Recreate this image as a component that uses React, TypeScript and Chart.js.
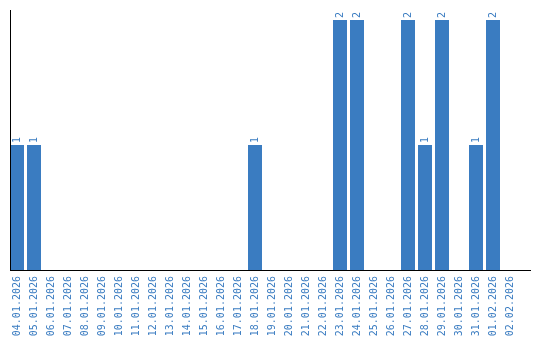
import React, { useEffect, useRef } from "react";
import { Chart, registerables } from "chart.js";

Chart.register(...registerables);

const categories: string[] = [
  "04.01.2026", "05.01.2026", "06.01.2026", "07.01.2026", "08.01.2026",
  "09.01.2026", "10.01.2026", "11.01.2026", "12.01.2026", "13.01.2026",
  "14.01.2026", "15.01.2026", "16.01.2026", "17.01.2026", "18.01.2026",
  "19.01.2026", "20.01.2026", "21.01.2026", "22.01.2026", "23.01.2026",
  "24.01.2026", "25.01.2026", "26.01.2026", "27.01.2026", "28.01.2026",
  "29.01.2026", "30.01.2026", "31.01.2026", "01.02.2026", "02.02.2026",
];

const counts: number[] = [
  1, 1, 0, 0, 0,
  0, 0, 0, 0, 0,
  0, 0, 0, 0, 1,
  0, 0, 0, 0, 2,
  2, 0, 0, 2, 1,
  2, 0, 1, 2, 0,
];

const BLUE = "#3a7cc1";
const FONT = "'DejaVu Sans Mono', monospace";

const axesPlugin = {
  id: "axesLines",
  afterDatasetsDraw(chart: any) {
    const ctx = chart.ctx;
    const area = chart.chartArea;
    ctx.save();
    ctx.fillStyle = "#000000";
    const x0 = Math.round(area.left + 1.5);
    ctx.fillRect(x0, Math.round(area.top), 1, Math.round(area.bottom - area.top) + 1);
    ctx.fillRect(x0, Math.round(area.bottom), 531 - x0, 1);
    ctx.restore();
  },
};

const valueLabelPlugin = {
  id: "valueLabels",
  afterDatasetsDraw(chart: any) {
    const ctx = chart.ctx;
    const meta = chart.getDatasetMeta(0);
    const data = chart.data.datasets[0].data as number[];
    ctx.save();
    ctx.fillStyle = BLUE;
    ctx.font = `10px ${FONT}`;
    ctx.textAlign = "left";
    ctx.textBaseline = "middle";
    meta.data.forEach((bar: any, i: number) => {
      const v = data[i];
      if (!v) return;
      ctx.save();
      ctx.translate(bar.x, bar.y - 2);
      ctx.rotate(-Math.PI / 2);
      ctx.fillText(String(v), 0, 0);
      ctx.restore();
    });
    ctx.restore();
  },
};

export default function App() {
  const ref = useRef<HTMLCanvasElement | null>(null);

  useEffect(() => {
    if (!ref.current) return;
    const chart = new Chart(ref.current, {
      type: "bar",
      data: {
        labels: categories,
        datasets: [
          {
            data: counts,
            backgroundColor: BLUE,
            borderWidth: 0,
            categoryPercentage: 1,
            barPercentage: 14 / 17,
          },
        ],
      },
      options: {
        animation: false,
        responsive: false,
        maintainAspectRatio: false,
        devicePixelRatio: 1,
        layout: { padding: { top: 10, left: 8.5, right: 21.5, bottom: 0 } },
        plugins: {
          legend: { display: false },
          tooltip: { enabled: false },
          title: { display: false },
        },
        scales: {
          x: {
            offset: true,
            grid: { display: false, drawTicks: false },
            border: { display: false },
            afterFit(scale: any) {
              scale.height = 70;
            },
            ticks: {
              color: BLUE,
              font: { family: FONT, size: 10 },
              minRotation: 90,
              maxRotation: 90,
              autoSkip: false,
              padding: 6,
            },
          },
          y: {
            display: false,
            min: 0,
            max: 2.08,
          },
        },
      },
      plugins: [axesPlugin, valueLabelPlugin],
    });
    return () => chart.destroy();
  }, []);

  return (
    <div style={{ position: "fixed", left: 0, top: 0, width: 540, height: 340, background: "#ffffff" }}>
      <canvas ref={ref} width={540} height={340} style={{ width: 540, height: 340 }} />
    </div>
  );
}
